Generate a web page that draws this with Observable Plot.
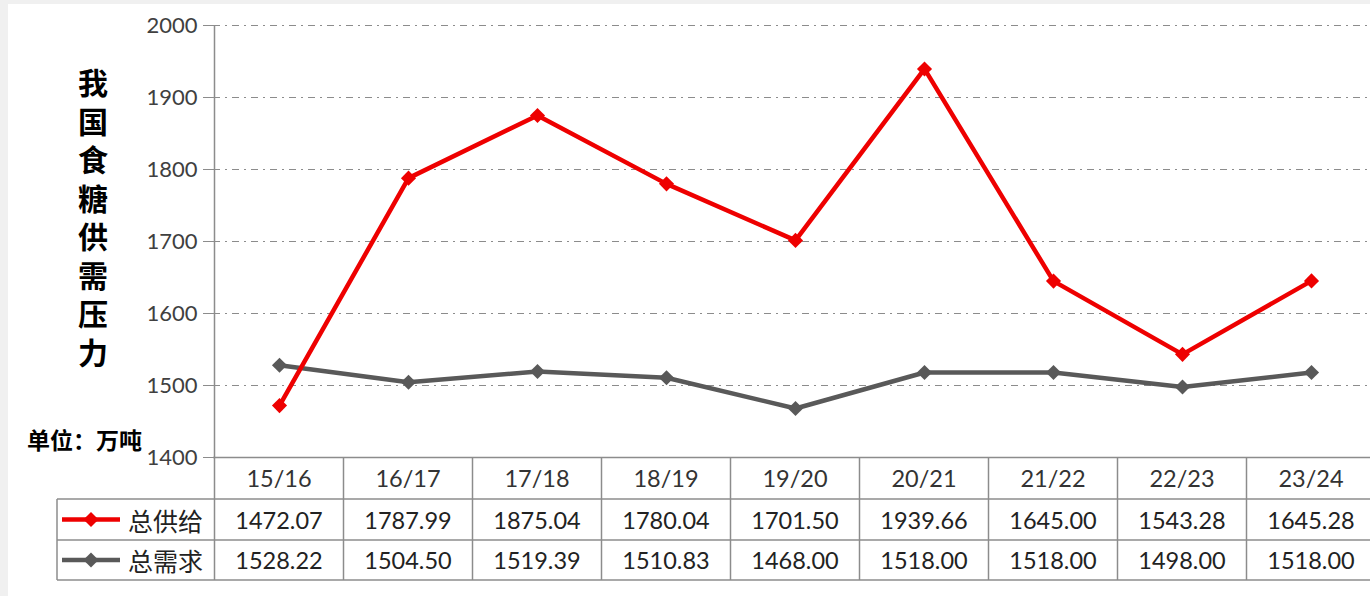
<!DOCTYPE html>
<html><head><meta charset="utf-8">
<script src="https://cdn.jsdelivr.net/npm/d3@7"></script>
<script src="https://cdn.jsdelivr.net/npm/@observablehq/plot@0.6"></script>
<style>
html,body{margin:0;padding:0;background:#f0f0f0;overflow:hidden;}
#wrap{position:relative;width:1370px;height:596px;overflow:hidden;}
#paper{position:absolute;left:8px;top:4px;width:1362px;height:592px;background:#fff;}
#chart{position:absolute;left:0;top:0;width:1376px;}
</style></head>
<body>
<div id="wrap"><div id="paper"></div><div id="chart"></div></div>
<script>
const categories = ["15/16","16/17","17/18","18/19","19/20","20/21","21/22","22/23","23/24"];
const supply = [1472.07,1787.99,1875.04,1780.04,1701.50,1939.66,1645.00,1543.28,1645.28];
const demand = [1528.22,1504.50,1519.39,1510.83,1468.00,1518.00,1518.00,1498.00,1518.00];
const seriesNames = ["总供给","总需求"];
const seriesColors = ["#ee0000","#595959"];
const yTicks = [1400,1500,1600,1700,1800,1900,2000];
const titleText = "我国食糖供需压力";
const unitLabel = "单位：万吨";

const rows = categories.map((c,i)=>({cat:c, supply:supply[i], demand:demand[i]}));
const numFont = "Lato, 'Liberation Sans', sans-serif";
const cjkFont = "'Noto Sans CJK SC', sans-serif";

const plot = Plot.plot({
  width: 1376, height: 596,
  marginLeft: 213, marginRight: 0, marginTop: 25, marginBottom: 139,
  style: {background: "transparent", fontFamily: numFont, overflow: "visible", maxWidth: "none"},
  x: {type: "point", domain: categories, padding: 0.5, axis: null},
  y: {domain: [1400, 2000], axis: null},
  marks: [
    Plot.ruleY(yTicks.filter(d => d > 1400), {stroke: "#8c8c8c", strokeWidth: 1.2, strokeDasharray: "7,5,2,5"}),
    Plot.ruleY([1400], {stroke: "#8c8c8c", strokeWidth: 1.5}),
    Plot.axisY({ticks: yTicks, tickSize: 10, tickPadding: 6, fontSize: 22, stroke: "#8c8c8c", color: "#404040", label: null, tickFormat: d => String(d)}),
    Plot.line(rows, {x: "cat", y: "demand", stroke: seriesColors[1], strokeWidth: 4.5}),
    Plot.dot(rows, {x: "cat", y: "demand", symbol: "diamond2", r: 6.8, fill: seriesColors[1]}),
    Plot.line(rows, {x: "cat", y: "supply", stroke: seriesColors[0], strokeWidth: 4.5}),
    Plot.dot(rows, {x: "cat", y: "supply", symbol: "diamond2", r: 6.8, fill: seriesColors[0]})
  ]
});
plot.style.maxWidth = "none";
document.getElementById("chart").appendChild(plot);

const xs = plot.scale("x"), ys = plot.scale("y");
const step = xs.apply(categories[1]) - xs.apply(categories[0]);
const xLeft = xs.apply(categories[0]) - step / 2;
const xRight = xs.apply(categories[categories.length - 1]) + step / 2;
const yTop = ys.apply(2000), yBase = ys.apply(1400);
const svg = d3.select(plot);
const g = svg.append("g").attr("text-anchor", "start");
const gridC = "#8c8c8c";
const legendLeft = 57;
const rowY = [yBase, yBase + 42, yBase + 83, yBase + 123];

g.append("line").attr("x1", xLeft).attr("x2", xLeft).attr("y1", yTop).attr("y2", rowY[3]).attr("stroke", gridC).attr("stroke-width", 1.5);
categories.forEach((c, i) => {
  const xb = xs.apply(c) + step / 2;
  g.append("line").attr("x1", xb).attr("x2", xb).attr("y1", yBase).attr("y2", rowY[3]).attr("stroke", gridC).attr("stroke-width", 1.5);
});
[1, 2, 3].forEach(k => {
  g.append("line").attr("x1", legendLeft).attr("x2", xRight).attr("y1", rowY[k]).attr("y2", rowY[k]).attr("stroke", gridC).attr("stroke-width", 1.5);
});
g.append("line").attr("x1", legendLeft).attr("x2", legendLeft).attr("y1", rowY[1]).attr("y2", rowY[3]).attr("stroke", gridC).attr("stroke-width", 1.5);

categories.forEach(c => {
  g.append("text").attr("x", xs.apply(c)).attr("y", (rowY[0] + rowY[1]) / 2).attr("text-anchor", "middle").attr("dominant-baseline", "central")
    .attr("font-family", numFont).attr("font-size", 23.5).attr("fill", "#333").text(c);
});
[supply, demand].forEach((arr, r) => {
  const cy = (rowY[r + 1] + rowY[r + 2]) / 2;
  arr.forEach((v, i) => {
    g.append("text").attr("x", xs.apply(categories[i])).attr("y", cy).attr("text-anchor", "middle").attr("dominant-baseline", "central")
      .attr("font-family", numFont).attr("font-size", 23.5).attr("fill", "#222").text(v.toFixed(2));
  });
  g.append("line").attr("x1", 62).attr("x2", 120).attr("y1", cy).attr("y2", cy).attr("stroke", seriesColors[r]).attr("stroke-width", 4.5);
  g.append("path").attr("d", d3.symbol(d3.symbolDiamond2, Math.PI * 6.8 * 6.8)()).attr("transform", `translate(91,${cy})`).attr("fill", seriesColors[r]);
  g.append("text").attr("x", 128).attr("y", cy).attr("text-anchor", "start").attr("dominant-baseline", "central").attr("font-family", cjkFont).attr("font-size", 25).attr("fill", "#222").text(seriesNames[r]);
});

g.append("text").attr("x", 93).attr("y", 68).attr("text-anchor", "start")
  .style("writing-mode", "vertical-rl").style("text-orientation", "upright").style("letter-spacing", "8.5px")
  .attr("font-family", cjkFont).attr("font-weight", "bold").attr("font-size", 30).attr("fill", "#000").text(titleText);
g.append("text").attr("x", 27).attr("y", 449).attr("text-anchor", "start").attr("font-family", cjkFont).attr("font-weight", "bold").attr("font-size", 23).attr("fill", "#000").text(unitLabel);
</script>
</body></html>
